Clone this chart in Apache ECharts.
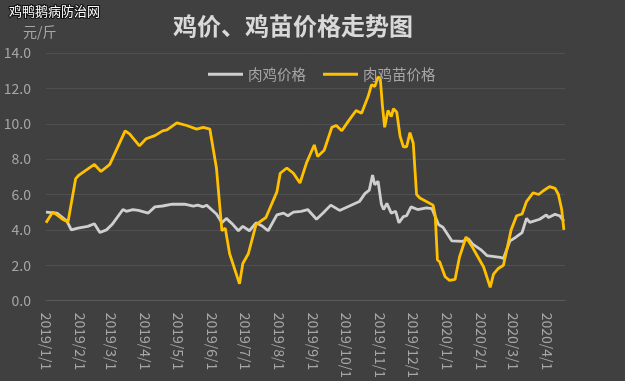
<!DOCTYPE html>
<html>
<head>
<meta charset="utf-8">
<script src="https://cdn.jsdelivr.net/npm/echarts@6/dist/echarts.min.js"></script>
<style>
html,body{margin:0;padding:0;background:#404040;}
#c{width:625px;height:381px;}
</style>
</head>
<body>
<div id="c"></div>
<script>
// ---- data ----
const seriesNames = ['肉鸡价格', '肉鸡苗价格'];

const broilerDates = ['2019/1/1','2019/1/11','2019/1/20','2019/1/24','2019/1/30','2019/2/8','2019/2/14','2019/2/19','2019/2/25','2019/3/2',
 '2019/3/12','2019/3/15','2019/3/21','2019/3/26','2019/4/4','2019/4/10','2019/4/17','2019/4/26','2019/5/7','2019/5/15',
 '2019/5/19','2019/5/24','2019/5/27','2019/6/5','2019/6/10','2019/6/14','2019/6/20','2019/6/25','2019/6/29','2019/7/5',
 '2019/7/11','2019/7/17','2019/7/22','2019/7/30','2019/8/5','2019/8/9','2019/8/14','2019/8/21','2019/8/27','2019/9/4',
 '2019/9/10','2019/9/17','2019/9/25','2019/10/4','2019/10/13','2019/10/18','2019/10/22','2019/10/25','2019/10/27','2019/10/30',
 '2019/11/2','2019/11/4','2019/11/7','2019/11/11','2019/11/15','2019/11/18','2019/11/22','2019/11/25','2019/11/29','2019/12/5',
 '2019/12/13','2019/12/18','2019/12/24','2019/12/28','2020/1/5','2020/1/15','2020/1/20','2020/1/24','2020/2/1','2020/2/6',
 '2020/2/18','2020/2/21','2020/2/27','2020/3/3','2020/3/9','2020/3/13','2020/3/16','2020/3/25','2020/3/31','2020/4/2',
 '2020/4/8','2020/4/12','2020/4/16'];
const broilerPrices = [5.0,4.95,4.5,4.0,4.1,4.2,4.35,3.85,4.0,4.3,
 5.15,5.05,5.15,5.1,4.95,5.3,5.35,5.45,5.45,5.35,
 5.4,5.3,5.4,4.9,4.4,4.65,4.3,3.95,4.2,3.95,
 4.4,4.2,3.95,4.85,4.95,4.8,5.0,5.05,5.15,4.6,
 4.95,5.4,5.1,5.35,5.6,6.05,6.25,7.1,6.55,6.75,
 5.45,5.15,5.5,4.95,5.05,4.4,4.75,4.8,5.3,5.15,
 5.25,5.2,4.3,4.15,3.38,3.35,3.5,3.2,2.85,2.55,
 2.45,2.38,3.38,3.57,3.85,4.65,4.42,4.6,4.85,4.7,
 4.88,4.8,4.5];

const chickDates = ['2019/1/1','2019/1/7','2019/1/11','2019/1/16','2019/1/21','2019/1/28','2019/1/31','2019/2/14','2019/2/20','2019/2/28',
 '2019/3/14','2019/3/18','2019/3/27','2019/4/2','2019/4/10','2019/4/17','2019/4/21','2019/4/30','2019/5/9','2019/5/18',
 '2019/5/24','2019/5/30','2019/6/5','2019/6/10','2019/6/13','2019/6/17','2019/6/26','2019/6/29','2019/7/4','2019/7/11',
 '2019/7/20','2019/7/30','2019/8/2','2019/8/8','2019/8/14','2019/8/20','2019/8/26','2019/9/2','2019/9/5','2019/9/11',
 '2019/9/18','2019/9/22','2019/9/27','2019/10/3','2019/10/10','2019/10/15','2019/10/21','2019/10/24','2019/10/27','2019/10/30',
 '2019/11/1','2019/11/3','2019/11/5','2019/11/8','2019/11/11','2019/11/13','2019/11/16','2019/11/19','2019/11/22','2019/11/25',
 '2019/11/28','2019/12/1','2019/12/4','2019/12/7','2019/12/19','2019/12/21','2019/12/23','2019/12/25','2019/12/30','2020/1/3',
 '2020/1/8','2020/1/12','2020/1/18','2020/1/24','2020/2/3','2020/2/9','2020/2/12','2020/2/16','2020/2/21','2020/2/24',
 '2020/2/28','2020/3/4','2020/3/9','2020/3/13','2020/3/19','2020/3/24','2020/3/28','2020/4/3','2020/4/8','2020/4/11',
 '2020/4/14','2020/4/16'];
const chickPrices = [4.4,5.0,4.85,4.6,4.45,6.9,7.1,7.7,7.3,7.7,
 9.6,9.43,8.75,9.15,9.33,9.6,9.65,10.05,9.9,9.7,
 9.8,9.7,7.5,3.95,4.1,2.65,0.95,2.1,2.65,4.3,
 4.7,6.15,7.2,7.5,7.2,6.65,7.8,8.8,8.15,8.5,
 9.8,9.9,9.6,10.15,10.75,10.6,11.55,12.2,12.1,12.65,
 12.55,11.0,9.8,10.75,10.4,10.85,10.65,9.3,8.7,8.7,
 9.5,8.9,6.0,5.8,5.4,4.8,2.3,2.2,1.35,1.15,
 1.2,2.45,3.6,3.0,1.9,0.75,1.5,1.8,2.0,2.85,
 4.0,4.8,4.9,5.6,6.1,6.0,6.2,6.45,6.35,6.0,
 5.15,4.0];

const xTickLabels = ['2019/1/1','2019/2/1','2019/3/1','2019/4/1','2019/5/1','2019/6/1','2019/7/1','2019/8/1',
 '2019/9/1','2019/10/1','2019/11/1','2019/12/1','2020/1/1','2020/2/1','2020/3/1','2020/4/1'];
const xRange = ['2019/1/1', '2020/4/17'];
const yMin = 0, yMax = 14, yStep = 2;

// ---- helpers ----
function ts(s){ const p = s.split('/').map(Number); return new Date(p[0], p[1]-1, p[2]).getTime(); }
function fmt(v){ const d = new Date(v); return d.getFullYear() + '/' + (d.getMonth()+1) + '/' + d.getDate(); }
function pairs(ds, vs){ return ds.map((d,i)=>[ts(d), vs[i]]); }

const txt = '#a6a6a6';
const font = '"Noto Sans CJK SC", "Noto Sans", sans-serif';
const chart = echarts.init(document.getElementById('c'), null, {renderer:'canvas'});
chart.setOption({
  backgroundColor: '#404040',
  animation: false,
  textStyle: {fontFamily: font},
  graphic: [
    {type:'text', left: 8, top: 4, style:{text:'鸡鸭鹅病防治网', fill:'#ffffff', stroke:'#111', lineWidth:2, font:'13px "Noto Sans CJK SC"'}},
    {type:'text', left: 23, top: 25, style:{text:'元/斤', fill: txt, font:'14px "Noto Sans CJK SC"'}},
    {type:'text', left: 173, top: 14, style:{text:'鸡价、鸡苗价格走势图', fill:'#d9d9d9', font:'bold 24px "Noto Sans CJK SC"'}}
  ],
  legend: {
    left: 203, top: 62, icon: 'rect', itemWidth: 35, itemHeight: 3, itemGap: 17,
    textStyle: {color: txt, fontSize: 14.5, fontFamily: font},
    data: seriesNames
  },
  grid: {left: 46, right: 60, top: 53, bottom: 77},
  xAxis: {
    type: 'value', min: ts(xRange[0]), max: ts(xRange[1]),
    axisLine: {show: true, lineStyle: {color: '#5a5a5a'}},
    axisTick: {show: false},
    splitLine: {show: false},
    axisLabel: {
      customValues: xTickLabels.map(ts),
      formatter: v => fmt(v),
      rotate: -90, color: txt, fontSize: 14, margin: 12, fontFamily: font
    }
  },
  yAxis: {
    type: 'value', min: yMin, max: yMax, interval: yStep,
    axisLine: {show: false}, axisTick: {show: false},
    splitLine: {lineStyle: {color: '#505050', width: 1}},
    axisLabel: {formatter: v => v.toFixed(1), color: txt, fontSize: 14, margin: 15, fontFamily: font}
  },
  series: [
    {name: seriesNames[0], type: 'line', data: pairs(broilerDates, broilerPrices), showSymbol: false,
     lineStyle: {color: '#cfcfcf', width: 2.8}, itemStyle: {color: '#cfcfcf'}},
    {name: seriesNames[1], type: 'line', data: pairs(chickDates, chickPrices), showSymbol: false,
     lineStyle: {color: '#ffc000', width: 2.8}, itemStyle: {color: '#ffc000'}}
  ]
});
</script>
</body>
</html>
